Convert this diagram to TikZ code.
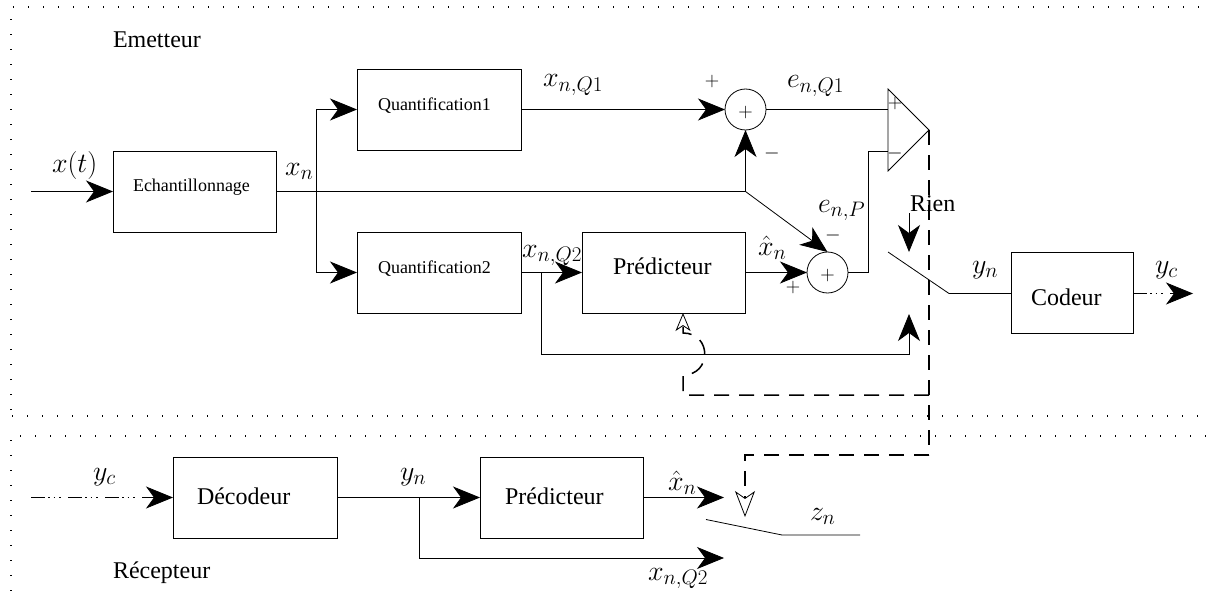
\RequirePackage{fix-cm}
\documentclass[tikz,border=0pt]{standalone}
\usepackage[no-math]{fontspec}
\setmainfont{Liberation Serif}
\usetikzlibrary{arrows.meta,calc}
\DeclareMathSizes{28}{28}{21}{16}
\newcommand\mfont{\fontsize{28}{32}\selectfont}
\newcommand\bigfont{\fontsize{24}{28}\selectfont}
\newcommand\smallfont{\fontsize{18}{22}\selectfont}
\newcommand\sgnfont{\fontsize{20}{24}\selectfont}
\tikzset{
 every node/.style={inner sep=0pt, outer sep=0pt},
 wire/.style={line width=0.8pt},
 arr/.style={wire, -{Stealth[length=27pt,width=22pt,inset=8pt]}},
 oarrS/.style={-{Stealth[open,length=18pt,width=15pt,inset=5pt,line width=0.8pt]}},
 oarrL/.style={-{Stealth[open,length=26pt,width=20pt,inset=7pt,line width=0.8pt]}},
 blk/.style={draw, line width=0.8pt, align=left, minimum height=81pt},
 mlab/.style={anchor=base west, font=\mfont},
 tlab/.style={anchor=base west, font=\bigfont},
 sgn/.style={font=\sgnfont},
 adder/.style={draw, circle, line width=0.8pt, minimum size=41pt, font=\sgnfont, text height=17.7pt, text depth=1.7pt},
 dsh/.style={line width=1.5pt, dash pattern=on 15pt off 10pt},
 ddot/.style={line width=1.3pt, dash pattern=on 14pt off 3pt on 1.5pt off 4pt on 1.5pt off 4pt on 1.5pt off 7.5pt},
 frame/.style={line width=1.2pt, dash pattern=on 1.2pt off 13.8pt},
}
\begin{document}
\begin{tikzpicture}[x=1pt,y=-1pt]
\useasboundingbox (0,0) rectangle (1209,599);
% frames
\draw[frame] (11,410) -- (11,7) -- (1208,7);
\draw[frame] (12,416) -- (1208,416);
\draw[frame] (20,436) -- (1208,436);
\draw[frame] (11,440) -- (11,598);

% section titles
\node[tlab] (emet) at (113,48) {Emetteur};
\node[tlab] (recep) at (113,578) {Récepteur};

% ---------------- emitter ----------------
\node[blk, font=\smallfont, minimum width=163pt, text width=123pt, inner xsep=20pt, text height=10pt, text depth=10pt] (ech) at (194.5,191.5) {Echantillonnage};
\node[blk, font=\smallfont, minimum width=164pt, text width=122pt, inner xsep=21pt, text height=11.5pt, text depth=8.5pt] (q1) at (439,109.5) {Quantification1};
\node[blk, font=\smallfont, minimum width=164pt, text width=122pt, inner xsep=21pt, text height=10.5pt, text depth=9.5pt] (q2) at (439,272.5) {Quantification2};
\node[blk, font=\bigfont, minimum width=163pt, text width=101pt, inner xsep=31pt, text height=12pt, text depth=8pt] (predE) at (663.5,272.5) {Prédicteur};
\node[blk, font=\bigfont, minimum width=122pt, text width=82pt, inner xsep=20pt, text height=25pt, text depth=0pt] (codeur) at (1072,292.5) {Codeur};

\node[adder] (add1) at (745.5,109.5) {$+$};
\node[adder] (add2) at (827.5,272.5) {$+$};

\coordinate (xin) at (31,191.5);
\coordinate (br1) at (316,191.5);
\coordinate (jn) at (745.5,191.5);
\coordinate (br2) at (541,272.5);
\coordinate (fbc) at (909,354);
\coordinate (swfb) at (909,314);
\coordinate (compTop) at (888,89);
\coordinate (compBot) at (888,171);
\coordinate (compApex) at (929,130);
\coordinate (compP) at (888,109.5);
\coordinate (compM) at (888,151);
\coordinate (kk) at (868,151);
\coordinate (swA) at (888,252);
\coordinate (swB) at (949,293.5);
\coordinate (rienS) at (909,213);
\coordinate (rienT) at (909,252);
\coordinate (yout) at (1193,293.5);
\coordinate (dA) at (929,395);
\coordinate (dB) at (683,395);
\coordinate (dC) at (929,455);
\coordinate (dD) at (745,455);
\coordinate (swtip) at (745,517);

% labels
\node[mlab] (lxt) at (52,172) {$x(t)$};
\node[mlab] (lxn) at (285,175) {$x_n$};
\node[mlab] (lxq1) at (543,87) {$x_{n,Q1}$};
\node[mlab] (leq1) at (787,88) {$e_{n,Q1}$};
\node[mlab] (lxq2) at (522,257) {$x_{n,Q2}$};
\node[mlab] (lxh) at (758,255) {$\hat{x}_n$};
\node[mlab] (lep) at (818,212) {$e_{n,P}$};
\node[mlab] (lyn) at (972,273) {$y_n$};
\node[mlab] (lyc) at (1155,273) {$y_c$};
\node[tlab] (rien) at (910,211) {Rien};

\node[sgn] (s1p) at (712,82) {$+$};
\node[sgn] (s1m) at (772,153) {$-$};
\node[sgn] (s2m) at (833,235) {$-$};
\node[sgn] (s2p) at (793,287) {$+$};
\node[sgn] (scp) at (895,104) {$+$};
\node[sgn] (scm) at (895,153) {$-$};

% connectors
\draw[arr] (xin) -- (ech.west);
\draw[wire] (ech.east) -- (jn);
\draw[arr] (br1) |- (q1.west);
\draw[arr] (br1) |- (q2.west);
\draw[arr] (q1.east) -- (add1.west);
\draw[arr] (jn) -- (add1.south);
\draw[arr] (jn) -- (add2.north);
\draw[wire] (add1.east) -- (compP);
\draw[arr] (q2.east) -- (predE.west);
\draw[arr] (br2) |- (fbc) -- (swfb);
\draw[arr] (predE.east) -- (add2.west);
\draw[wire] (add2.east) -| (kk) -- (compM);
\draw[wire] (compTop) -- (compApex) -- (compBot) -- cycle;
\draw[arr] (rienS) -- (rienT);
\draw[wire] (swA) -- (swB) -- (swB -| codeur.west);
\draw[ddot, arr] (swB -| codeur.east) -- (yout);

\draw[dsh] (compApex) -- (dC);
\draw[dsh, oarrS] (dA) -- (dB) -- (683,375) .. controls (712,375) and (712,333) .. (683,333) -- (predE.south -| dB);
\draw[dsh, oarrL] (dC) -- (dD) -- (swtip);

% ---------------- receiver ----------------
\node[blk, font=\bigfont, minimum width=164pt, text width=116pt, inner xsep=24pt, text height=16.5pt, text depth=3.5pt] (dec) at (255,497.5) {Décodeur};
\node[blk, font=\bigfont, minimum width=163pt, text width=113pt, inner xsep=25pt, text height=16.5pt, text depth=3.5pt] (predR) at (561.5,497.5) {Prédicteur};

\coordinate (rin) at (31,497.5);
\coordinate (br3) at (419,497.5);
\coordinate (xq2out) at (724,558);
\coordinate (xhout) at (724,497.5);
\coordinate (swC) at (706,519.5);
\coordinate (swD) at (782,535);
\coordinate (swE) at (860,535);

\node[mlab] (lycr) at (93,480) {$y_c$};
\node[mlab] (lynr) at (400,480) {$y_n$};
\node[mlab] (lxhr) at (668,490) {$\hat{x}_n$};
\node[mlab] (lxq2r) at (648,580) {$x_{n,Q2}$};
\node[mlab] (lzn) at (810,520) {$z_n$};

\draw[ddot, arr] (rin) -- (dec.west);
\draw[arr] (dec.east) -- (predR.west);
\draw[arr] (br3) |- (xq2out);
\draw[arr] (predR.east) -- (xhout);
\draw[wire] (swC) -- (swD) -- (swE);
\end{tikzpicture}
\end{document}
